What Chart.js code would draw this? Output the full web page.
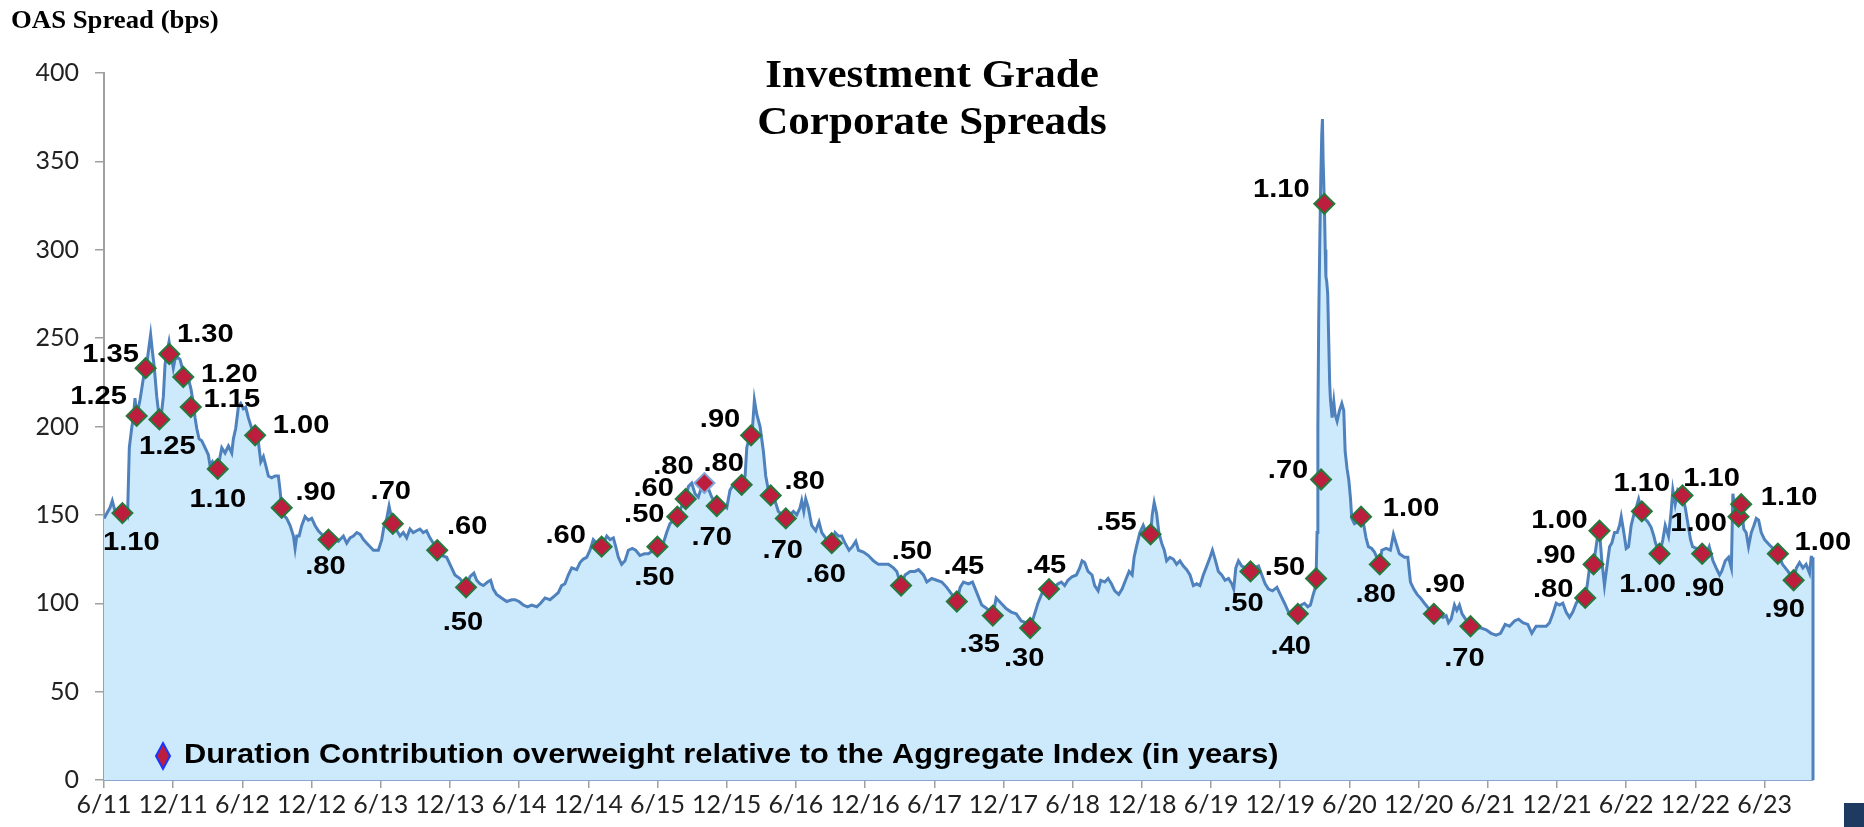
<!DOCTYPE html>
<html>
<head>
<meta charset="utf-8">
<title>Investment Grade Corporate Spreads</title>
<script src="https://cdn.jsdelivr.net/npm/chart.js@4.4.1/dist/chart.umd.min.js"></script>
<style>
  html, body { margin: 0; padding: 0; background: #fff; }
  #wrap { width: 1864px; height: 827px; position: relative; }
</style>
</head>
<body>
<div id="wrap"><canvas id="chart"></canvas></div>
<script>
// ── Data ──────────────────────────────────────────────────────
// IG corporate OAS (bps); x is a decimal year (2011.5 = end of June 2011)
const spreadDates = [
  2011.500, 2011.543, 2011.560, 2011.580, 2011.616, 2011.633, 2011.664, 2011.671, 2011.683, 2011.700,
  2011.712, 2011.724, 2011.736, 2011.760, 2011.784, 2011.796, 2011.808, 2011.825, 2011.837, 2011.849,
  2011.864, 2011.881, 2011.893, 2011.912, 2011.929, 2011.941, 2011.953, 2011.970, 2011.984, 2012.001,
  2012.013, 2012.033, 2012.049, 2012.066, 2012.086, 2012.110, 2012.129, 2012.146, 2012.158, 2012.170,
  2012.187, 2012.206, 2012.230, 2012.254, 2012.266, 2012.283, 2012.302, 2012.327, 2012.351, 2012.375,
  2012.399, 2012.423, 2012.435, 2012.452, 2012.471, 2012.488, 2012.507, 2012.524, 2012.543, 2012.567,
  2012.592, 2012.616, 2012.633, 2012.652, 2012.669, 2012.688, 2012.712, 2012.736, 2012.760, 2012.772,
  2012.784, 2012.796, 2012.820, 2012.845, 2012.869, 2012.881, 2012.893, 2012.910, 2012.929, 2012.953,
  2012.977, 2013.001, 2013.025, 2013.049, 2013.073, 2013.098, 2013.122, 2013.158, 2013.194, 2013.230,
  2013.254, 2013.278, 2013.302, 2013.327, 2013.351, 2013.375, 2013.399, 2013.423, 2013.447, 2013.483,
  2013.507, 2013.522, 2013.543, 2013.560, 2013.587,
  2013.639, 2013.663, 2013.687, 2013.711, 2013.735, 2013.759, 2013.783, 2013.807, 2013.831, 2013.855,
  2013.880, 2013.908, 2013.940, 2013.976, 2014.012, 2014.036, 2014.072, 2014.116, 2014.145, 2014.173,
  2014.193, 2014.217, 2014.241, 2014.272, 2014.294, 2014.313, 2014.337, 2014.373, 2014.410, 2014.446,
  2014.470, 2014.499, 2014.530, 2014.561, 2014.590, 2014.627, 2014.655, 2014.687, 2014.723, 2014.754,
  2014.783, 2014.807, 2014.831, 2014.855, 2014.880, 2014.916, 2014.940, 2014.964, 2014.988, 2015.012,
  2015.036, 2015.060, 2015.096, 2015.133, 2015.157, 2015.181, 2015.198, 2015.217, 2015.241, 2015.265,
  2015.289, 2015.318, 2015.342, 2015.373, 2015.405, 2015.434, 2015.470, 2015.499, 2015.542, 2015.566,
  2015.590, 2015.643, 2015.675, 2015.704, 2015.723, 2015.747,
  2015.771, 2015.795, 2015.819, 2015.839, 2015.867, 2015.892, 2015.928, 2015.964, 2016.000, 2016.024,
  2016.048, 2016.077, 2016.108, 2016.133, 2016.145, 2016.164, 2016.176, 2016.186, 2016.200, 2016.217,
  2016.241, 2016.265, 2016.282, 2016.301, 2016.318, 2016.349, 2016.373, 2016.402, 2016.427, 2016.458,
  2016.482, 2016.506, 2016.530, 2016.542, 2016.557, 2016.571, 2016.590, 2016.614, 2016.643, 2016.667,
  2016.687, 2016.723, 2016.759, 2016.783, 2016.807, 2016.831, 2016.855, 2016.884, 2016.908, 2016.933,
  2016.952, 2016.988, 2017.024, 2017.060, 2017.096, 2017.133, 2017.169, 2017.205, 2017.229, 2017.260,
  2017.289, 2017.325, 2017.361, 2017.386, 2017.422, 2017.446, 2017.482, 2017.518, 2017.554, 2017.590,
  2017.627, 2017.663, 2017.687, 2017.711, 2017.747, 2017.776, 2017.807, 2017.843, 2017.880, 2017.923,
  2017.947, 2017.959, 2017.983, 2018.019, 2018.056, 2018.092, 2018.128, 2018.164, 2018.193, 2018.225,
  2018.249, 2018.285, 2018.329, 2018.365, 2018.394, 2018.418, 2018.442, 2018.466, 2018.495, 2018.527,
  2018.551, 2018.568, 2018.587, 2018.611, 2018.640, 2018.659, 2018.684, 2018.703, 2018.732, 2018.756,
  2018.780, 2018.804, 2018.833, 2018.857, 2018.882, 2018.908, 2018.930, 2018.944, 2018.961, 2018.986,
  2019.010, 2019.034, 2019.063, 2019.075, 2019.089, 2019.106, 2019.123, 2019.143, 2019.162, 2019.179,
  2019.203, 2019.227, 2019.251, 2019.275, 2019.300, 2019.324, 2019.348, 2019.372, 2019.396, 2019.420,
  2019.444, 2019.469, 2019.493, 2019.510, 2019.529, 2019.553, 2019.577, 2019.601, 2019.626, 2019.650,
  2019.664, 2019.679, 2019.698, 2019.722, 2019.751, 2019.785, 2019.814, 2019.843, 2019.867, 2019.891,
  2019.915, 2019.944, 2019.976, 2020.000, 2020.031, 2020.060,
  2020.127, 2020.151, 2020.175, 2020.199, 2020.218, 2020.235, 2020.250, 2020.259, 2020.266, 2020.272,
  2020.278, 2020.285, 2020.293, 2020.300, 2020.305, 2020.310, 2020.319, 2020.325, 2020.330, 2020.336,
  2020.343, 2020.350, 2020.357, 2020.363, 2020.375, 2020.387, 2020.396, 2020.411, 2020.428, 2020.445,
  2020.459, 2020.469, 2020.483, 2020.495, 2020.507, 2020.517, 2020.536, 2020.560, 2020.584, 2020.604,
  2020.620, 2020.637, 2020.661, 2020.681, 2020.719, 2020.734, 2020.765, 2020.796, 2020.818, 2020.837,
  2020.861, 2020.898, 2020.922, 2020.941, 2020.965, 2020.989, 2021.013, 2021.042, 2021.073, 2021.110,
  2021.139, 2021.175, 2021.199, 2021.216, 2021.235, 2021.259, 2021.276, 2021.295, 2021.314, 2021.339,
  2021.375, 2021.416, 2021.452, 2021.488, 2021.524, 2021.560, 2021.592, 2021.625, 2021.657, 2021.693,
  2021.722, 2021.753, 2021.789, 2021.818, 2021.849, 2021.886, 2021.922, 2021.946, 2021.970, 2021.994,
  2022.018, 2022.042, 2022.066, 2022.090, 2022.114, 2022.139, 2022.163, 2022.204, 2022.218, 2022.235,
  2022.264,
  2022.290, 2022.307, 2022.324, 2022.343, 2022.363, 2022.380, 2022.396, 2022.416, 2022.435, 2022.452,
  2022.464, 2022.483, 2022.500, 2022.517, 2022.536, 2022.555, 2022.572, 2022.590, 2022.613, 2022.633,
  2022.657, 2022.680, 2022.700, 2022.712, 2022.741, 2022.765, 2022.782, 2022.806, 2022.825, 2022.837,
  2022.854, 2022.873, 2022.907, 2022.927, 2022.946, 2022.965, 2022.980, 2023.006, 2023.030, 2023.049,
  2023.078, 2023.100, 2023.127, 2023.150, 2023.175, 2023.190, 2023.216, 2023.240, 2023.260, 2023.271,
  2023.283, 2023.312, 2023.331, 2023.350, 2023.367, 2023.384, 2023.404, 2023.423, 2023.440, 2023.457,
  2023.476, 2023.500, 2023.524, 2023.548, 2023.577, 2023.596, 2023.630, 2023.670, 2023.710, 2023.730,
  2023.753, 2023.777, 2023.800, 2023.825, 2023.837, 2023.850,
];
const spreadOAS = [
  148, 154, 158, 152, 151, 151, 154, 152, 188, 199,
  205, 216, 206, 215, 227, 233, 235, 245, 252, 243,
  233, 217, 209, 205, 217, 235, 241, 248, 241, 233,
  238, 239, 238, 233, 229, 227, 221, 213, 205, 199,
  193, 192, 188, 184, 178, 180, 176, 178, 188, 185,
  189, 185, 193, 199, 211, 213, 210, 211, 205, 199,
  195, 191, 180, 183, 178, 172, 171, 172, 172, 164,
  154, 150, 148, 144, 138, 131, 138, 138, 144, 149,
  147, 148, 144, 141, 139, 137, 136, 137, 135, 138,
  134, 137, 138, 140, 139, 136, 134, 132, 130, 130,
  136, 143, 148, 155, 145,
  138, 140, 137, 142, 140, 141, 142, 140, 141, 137,
  134, 130, 127, 126, 120, 116, 114, 109, 115, 117,
  113, 111, 110, 112, 113, 108, 105, 103, 101, 102,
  102, 101, 99, 98, 99, 98, 100, 103, 102, 104,
  106, 110, 111, 116, 120, 119, 123, 125, 126, 130,
  136, 134, 132, 138, 136, 137, 132, 126, 122, 124,
  130, 131, 130, 127, 128, 128, 130, 132, 134, 140,
  145, 149, 155, 159, 166, 168,
  162, 160, 166, 168, 165, 160, 155, 156, 154, 164,
  167, 166, 167, 172, 188, 194, 195, 199, 215, 207,
  200, 186, 172, 164, 161, 158, 152, 150, 148, 150,
  152, 150, 154, 158, 152, 159, 154, 144, 141, 146,
  140, 136, 134, 140, 138, 138, 134, 130, 132, 135,
  130, 129, 127, 124, 122, 122, 122, 120, 118, 110,
  116, 118, 118, 119, 116, 112, 114, 113, 112, 109,
  105, 101, 109, 112, 111, 112, 106, 99, 97, 93,
  103, 102, 100, 97, 95, 94, 90, 89, 86, 94,
  100, 107, 108, 109, 111, 112, 110, 113, 115, 116,
  120, 124, 123, 118, 116, 110, 107, 113, 112, 114,
  111, 107, 105, 108, 113, 118, 116, 126, 132, 140,
  144, 139, 139, 150, 157, 151, 140, 134, 130, 124,
  126, 125, 122, 124, 121, 119, 116, 110, 111, 110,
  116, 121, 126, 130, 125, 118, 116, 113, 114, 111,
  108, 120, 124, 121, 120, 118, 120, 121, 116, 111,
  108, 107, 109, 105, 100, 95,
  94, 99, 100, 98, 99, 104, 108, 114, 140, 200,
  260, 300, 340, 365, 374, 350, 326, 300, 285, 282,
  275, 250, 225, 215, 205, 214, 207, 203, 209, 213,
  209, 186, 176, 170, 160, 148, 145, 146, 149, 144,
  137, 132, 131, 129, 122, 130, 131, 130, 139, 134,
  128, 126, 126, 112, 108, 105, 103, 100, 97, 94,
  94, 92, 93, 89, 91, 99, 96, 99, 94, 91,
  87, 86, 86, 85, 83, 82, 83, 88, 87, 90,
  91, 89, 88, 83, 87, 87, 87, 89, 94, 100,
  99, 100, 95, 92, 95, 100, 103, 103, 110, 120,
  122,
  136, 141, 124, 110, 122, 132, 134, 140, 140, 144,
  149, 140, 131, 132, 144, 150, 154, 159, 152, 148,
  146, 143, 138, 134, 128, 136, 144, 138, 152, 164,
  156, 164, 161, 154, 145, 136, 132, 131, 130, 128,
  128, 132, 124, 120, 116, 118, 124, 126, 120, 162,
  154, 149, 155, 142, 140, 132, 140, 144, 148, 147,
  140, 136, 134, 132, 130, 128, 122, 118, 113, 120,
  123, 120, 122, 117, 126, 126,
];

// Duration-overweight markers (years relative to the Aggregate Index)
const markerDates = [
  2011.633, 2011.736, 2011.801, 2011.900, 2011.972, 2012.073, 2012.127, 2012.322, 2012.592, 2012.784,
  2013.122, 2013.587, 2013.908, 2014.116, 2015.096, 2015.499, 2015.643, 2015.704, 2015.839, 2015.928,
  2016.108, 2016.176, 2016.318, 2016.427, 2016.759, 2017.260, 2017.663, 2017.923, 2018.193, 2018.329,
  2019.063, 2019.785, 2020.127, 2020.259, 2020.295, 2020.319, 2020.584, 2020.719, 2021.110, 2021.375,
  2022.204, 2022.264, 2022.307, 2022.613, 2022.741, 2022.907, 2023.049, 2023.312, 2023.331, 2023.596,
  2023.710,
];
const markerOAS = [
  151, 206, 233, 204, 241, 228, 211, 176, 195, 154,
  136, 145, 130, 109, 132, 132, 149, 159, 168, 155,
  167, 195, 161, 148, 134, 110, 101, 93, 86, 108,
  139, 118, 94, 114, 170, 326, 149, 122, 94, 87,
  103, 122, 141, 152, 128, 161, 128, 149, 156, 128,
  113,
];
const durationLabels = [
  '1.10', '1.25', '1.35', '1.25', '1.30', '1.20', '1.15', '1.10', '1.00', '.90',
  '.80', '.70', '.60', '.50', '.60', '.50', '.50', '.60', '.80', '.70',
  '.80', '.90', '.80', '.70', '.60', '.50', '.45', '.35', '.30', '.45',
  '.55', '.50', '.40', '.50', '.70', '1.10', '1.00', '.80', '.90', '.70',
  '.80', '.90', '1.00', '1.10', '1.00', '1.10', '.90', '1.00', '1.10', '1.00',
  '.90',
];

// x-axis ticks (end of June / end of December)
const tickValues = [
  2011.5, 2012, 2012.5, 2013, 2013.5, 2014, 2014.5, 2015, 2015.5, 2016, 2016.5, 2017, 2017.5,
  2018, 2018.5, 2019, 2019.5, 2020, 2020.5, 2021, 2021.5, 2022, 2022.5, 2023, 2023.5,
];
const tickLabels = [
  '6/11', '12/11', '6/12', '12/12', '6/13', '12/13', '6/14', '12/14', '6/15', '12/15', '6/16', '12/16', '6/17',
  '12/17', '6/18', '12/18', '6/19', '12/19', '6/20', '12/20', '6/21', '12/21', '6/22', '12/22', '6/23',
];

// ── Styling / placement ───────────────────────────────────────
const LINE_BLUE = '#4f81bd';
const AREA_BLUE = '#cdeafd';
const MARKER_RED = '#be1e3d';
const MARKER_GREEN = '#247a3c';
const BLUE_EDGE_INDEX = 18;   // the one marker drawn with a blue outline

// label centre offset from its marker, in px
const labelOffsets = [
  [9, 30], [-38, -19], [-35, -13], [8, 27], [36, -19], [46, -2], [41, -7], [0, 31], [46, -10], [34, -15],
  [-3, 27], [-2, -32], [30, -23], [-3, 35], [-36, -11], [-3, 31], [-33, -2], [-32, -10], [-31, -16], [-5, 32],
  [-18, -21], [-31, -16], [34, -14], [-3, 32], [-6, 32], [11, -34], [7, -35], [-13, 29], [-6, 31], [-3, -23],
  [-34, -11], [-7, 32], [-7, 33], [-31, -11], [-33, -9], [-43, -14], [50, -8], [-4, 30], [11, -29], [-6, 33],
  [-32, -8], [-38, -9], [-40, -10], [0, -28], [-12, 31], [29, -17], [2, 35], [-40, 7], [48, -6], [45, -11],
  [-9, 30],
];

Chart.defaults.font.family = "Lato, 'Open Sans', sans-serif";
Chart.defaults.font.size = 25;
Chart.defaults.color = '#222';

const SANS_BOLD = "'Liberation Sans', Arial, sans-serif";
const SERIF_BOLD = "'Liberation Serif', 'Times New Roman', serif";

// the source artwork is a little wider than tall, so text is stretched sideways
function wideText(ctx, text, x, y, sx) {
  ctx.save();
  ctx.translate(x, y);
  ctx.scale(sx, 1);
  ctx.fillText(text, 0, 0);
  ctx.restore();
}

// Title, axis caption, marker labels, legend and the area's right edge
const overlayPlugin = {
  id: 'overlay',
  afterDatasetsDraw(chart) {
    const { ctx, scales: { x, y } } = chart;
    ctx.save();

    // closing edge of the area on the right
    const lastX = x.getPixelForValue(spreadDates[spreadDates.length - 1]);
    ctx.strokeStyle = LINE_BLUE;
    ctx.lineWidth = 3;
    ctx.beginPath();
    ctx.moveTo(lastX, y.getPixelForValue(spreadOAS[spreadOAS.length - 1]));
    ctx.lineTo(lastX, y.getPixelForValue(0));
    ctx.stroke();

    // duration labels
    const meta = chart.getDatasetMeta(1);
    ctx.fillStyle = '#000';
    ctx.font = `bold 26px ${SANS_BOLD}`;
    ctx.textAlign = 'center';
    ctx.textBaseline = 'middle';
    meta.data.forEach((pt, i) => {
      const [dx, dy] = labelOffsets[i];
      wideText(ctx, durationLabels[i], pt.x + dx, pt.y + dy, 1.12);
    });

    // chart title
    ctx.font = `bold 41px ${SERIF_BOLD}`;
    wideText(ctx, 'Investment Grade', 932, 76, 1.05);
    wideText(ctx, 'Corporate Spreads', 932, 123, 1.05);

    // y caption
    ctx.font = `bold 25px ${SERIF_BOLD}`;
    ctx.textAlign = 'left';
    wideText(ctx, 'OAS Spread (bps)', 11, 22, 1.07);

    // legend
    const lx = 163, ly = 756;
    ctx.beginPath();
    ctx.moveTo(lx, ly - 13);
    ctx.lineTo(lx + 7, ly);
    ctx.lineTo(lx, ly + 13);
    ctx.lineTo(lx - 7, ly);
    ctx.closePath();
    ctx.fillStyle = MARKER_RED;
    ctx.fill();
    ctx.strokeStyle = '#1a35ff';
    ctx.lineWidth = 2;
    ctx.stroke();
    ctx.fillStyle = '#000';
    ctx.font = `bold 27px ${SANS_BOLD}`;
    wideText(ctx, 'Duration Contribution overweight relative to the Aggregate Index (in years)', 184, ly, 1.14);

    // corner of the page logo
    ctx.fillStyle = '#1f3a60';
    ctx.fillRect(1844, 803, 20, 24);
    ctx.restore();
  },
};

new Chart(document.getElementById('chart'), {
  type: 'line',
  data: {
    datasets: [
      {
        label: 'OAS',
        data: spreadDates.map((d, i) => ({ x: d, y: spreadOAS[i] })),
        borderColor: LINE_BLUE,
        backgroundColor: AREA_BLUE,
        borderWidth: 3,
        pointRadius: 0,
        tension: 0,
        fill: 'origin',
        order: 2,
      },
      {
        label: 'Duration',
        data: markerDates.map((d, i) => ({ x: d, y: markerOAS[i] })),
        showLine: false,
        pointStyle: 'rectRot',
        pointRadius: 10,
        pointBorderWidth: 2,
        pointBackgroundColor: MARKER_RED,
        pointBorderColor: markerDates.map((_, i) => (i === BLUE_EDGE_INDEX ? '#7fa6d8' : MARKER_GREEN)),
        order: 1,
      },
    ],
  },
  options: {
    responsive: true,
    maintainAspectRatio: false,
    animation: false,
    layout: { padding: { top: 73, right: 51, left: 0, bottom: 0 } },
    plugins: {
      legend: { display: false },
      tooltip: { enabled: false },
    },
    scales: {
      x: {
        type: 'linear',
        min: 2011.5,
        max: 2023.85,
        afterBuildTicks: (scale) => { scale.ticks = tickValues.map((value) => ({ value })); },
        afterFit: (scale) => { scale.height = 47; },
        ticks: {
          autoSkip: false,
          maxRotation: 0,
          padding: 2,
          callback: (v, i) => tickLabels[i],
        },
        grid: { drawOnChartArea: false, tickLength: 8, color: '#a0a0a0', lineWidth: 1.5 },
        border: { color: '#8aa6cf', width: 2 },
      },
      y: {
        min: 0,
        max: 400,
        afterFit: (scale) => { scale.width = 104; },
        ticks: { stepSize: 50, padding: 16 },
        grid: { drawOnChartArea: false, tickLength: 9, color: '#a0a0a0', lineWidth: 1.5 },
        border: { color: '#a0a0a0', width: 2 },
      },
    },
  },
  plugins: [overlayPlugin],
});
</script>
</body>
</html>
